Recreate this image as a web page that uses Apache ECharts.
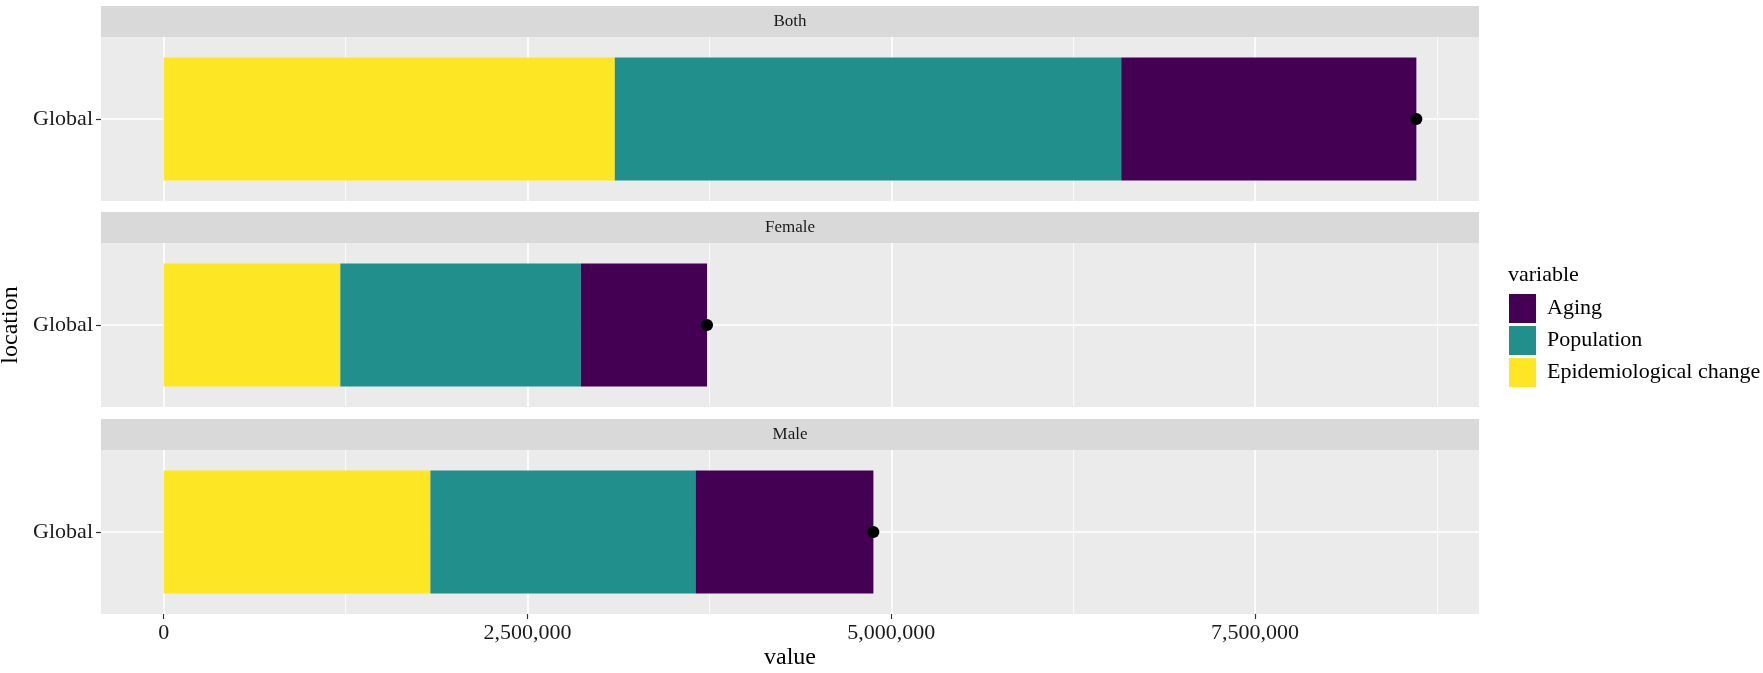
<!DOCTYPE html>
<html>
<head>
<meta charset="utf-8">
<script src="https://cdn.jsdelivr.net/npm/echarts@6/dist/echarts.min.js"></script>
<style>html,body{margin:0;padding:0;background:#fff;}#c{width:1763px;height:673px;}</style>
</head>
<body>
<div id="c"></div>
<script>
// ---- data ----
const panels = ['Both', 'Female', 'Male'];
const categories = ['Global'];
const epidemiological = [3100000, 1214000, 1833000];
const population = [3480000, 1653000, 1822000];
const aging = [2028000, 867000, 1222000];
const totals = [8608000, 3734000, 4877000];
const majorTicks = [0, 2500000, 5000000, 7500000];
const minorTicks = [1250000, 3750000, 6250000, 8750000];
const legendOrder = ['Aging', 'Population', 'Epidemiological change'];
const xMin = -430400, xMax = 9038400;

const colors = {
  'Epidemiological change': '#FDE725',
  'Population': '#21908C',
  'Aging': '#440154'
};
const FONT = '"Liberation Serif", "Times New Roman", serif';
const panelTops = [37, 243, 450];
const panelH = 164;
const L = 101, W = 1378, STRIP = 31;

const grids = [], xAxes = [], yAxes = [], series = [], graphics = [];
panels.forEach((p, i) => {
  grids.push({left: L, top: panelTops[i], width: W, height: panelH, show: true,
    backgroundColor: '#EBEBEB', borderWidth: 0, containLabel: false, outerBoundsMode: 'none'});
  const bottom = i === panels.length - 1;
  xAxes.push({type: 'value', gridIndex: i, min: xMin, max: xMax,
    splitLine: {show: false}, axisLine: {show: false, onZero: false},
    axisTick: {show: bottom, customValues: majorTicks, length: 5, lineStyle: {color: '#333', width: 1.2}},
    axisLabel: {show: bottom, customValues: majorTicks, margin: 8, fontFamily: FONT, fontSize: 22, color: '#1a1a1a',
      formatter: v => Number(v).toLocaleString('en-US')},
    name: bottom ? 'value' : '', nameLocation: 'middle', nameGap: 32,
    nameTextStyle: {fontFamily: FONT, fontSize: 24, color: '#000'}
  });
  yAxes.push({type: 'category', gridIndex: i, data: categories,
    axisLine: {show: false, onZero: false},
    axisTick: {show: true, alignWithLabel: true, length: 5, lineStyle: {color: '#333', width: 1.2}},
    axisLabel: {fontFamily: FONT, fontSize: 22, color: '#1a1a1a', margin: 8},
    splitLine: {show: false},
    name: i === 1 ? 'location' : '', nameLocation: 'middle', nameGap: 70,
    nameTextStyle: {fontFamily: FONT, fontSize: 24, color: '#000'}
  });
  const gridLines = [];
  majorTicks.forEach(v => gridLines.push({xAxis: v, lineStyle: {width: 1.6}}));
  minorTicks.forEach(v => gridLines.push({xAxis: v, lineStyle: {width: 0.8}}));
  gridLines.push({yAxis: categories[0], lineStyle: {width: 1.6}});
  const mk = (name, arr, extra) => Object.assign({
    name, type: 'bar', stack: 'tot' + i, xAxisIndex: i, yAxisIndex: i,
    barWidth: '75%', itemStyle: {color: colors[name]}, z: 2,
    data: [arr[i]]
  }, extra || {});
  series.push(mk('Epidemiological change', epidemiological, {
    markLine: {silent: true, symbol: 'none', z: 1, animation: false,
      label: {show: false}, lineStyle: {color: '#fff', type: 'solid'}, data: gridLines}
  }));
  series.push(mk('Population', population));
  series.push(mk('Aging', aging));
  series.push({type: 'scatter', xAxisIndex: i, yAxisIndex: i, symbolSize: 12, z: 5,
    itemStyle: {color: '#000', opacity: 1}, data: [[totals[i], categories[0]]]});
  graphics.push({type: 'rect', shape: {x: L, y: panelTops[i] - STRIP, width: W, height: STRIP},
    style: {fill: '#D9D9D9'}, silent: true});
  graphics.push({type: 'text', x: L + W / 2, y: panelTops[i] - STRIP / 2,
    style: {text: p, fontFamily: FONT, fontSize: 17, fill: '#1a1a1a', align: 'center', verticalAlign: 'middle'}});
});
graphics.push({type: 'text', x: 1508, y: 275,
  style: {text: 'variable', fontFamily: FONT, fontSize: 22, fill: '#000', verticalAlign: 'middle'}});

const chart = echarts.init(document.getElementById('c'));
chart.setOption({
  animation: false,
  grid: grids, xAxis: xAxes, yAxis: yAxes, series: series, graphic: graphics,
  legend: {orient: 'vertical', left: 1509, top: 294, data: legendOrder, icon: 'rect',
    itemWidth: 27, itemHeight: 29, itemGap: 3, selectedMode: false, padding: 0,
    textStyle: {fontFamily: FONT, fontSize: 22, color: '#000', padding: [0, 0, 0, 6]}}
});
</script>
</body>
</html>
